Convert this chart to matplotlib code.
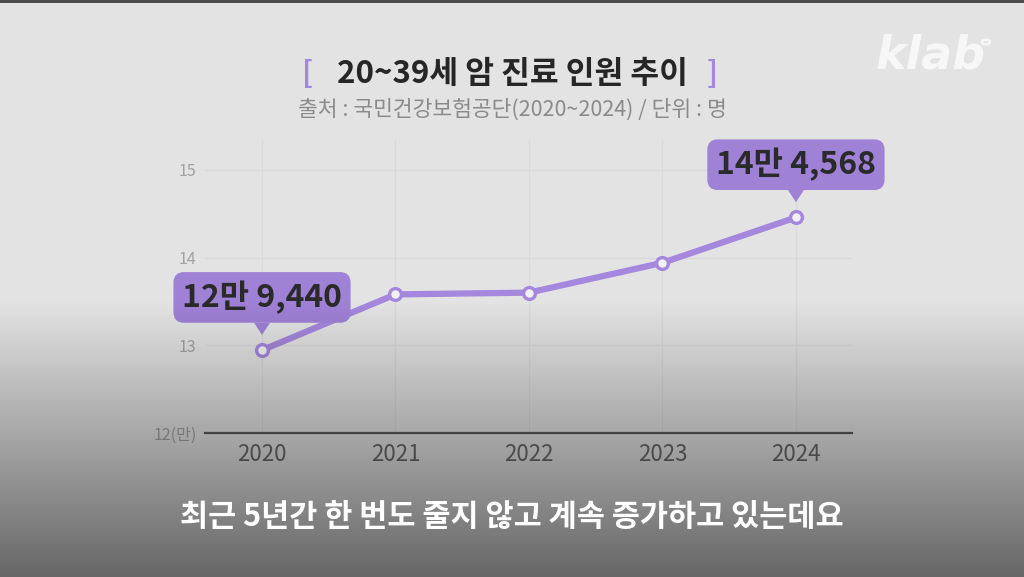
"""20~39세 암 진료 인원 추이 chart, video-frame style."""
import matplotlib
matplotlib.use("Agg")
import matplotlib.pyplot as plt
from matplotlib.patches import Rectangle, Circle
import numpy as np

plt.rcParams["font.family"] = ["Noto Sans CJK KR", "DejaVu Sans"]

YEARS = [2020, 2021, 2022, 2023, 2024]
PATIENTS = [129440, 135800, 136000, 139400, 144568]
Y_TICKS = [12, 13, 14, 15]
Y_TICK_LABELS = ["12(만)", "13", "14", "15"]
CALLOUT_YEARS = [2020, 2024]

TITLE = "20~39세 암 진료 인원 추이"
SOURCE = "출처 : 국민건강보험공단(2020~2024) / 단위 : 명"
CAPTION = "최근 5년간 한 번도 줄지 않고 계속 증가하고 있는데요"

PURPLE = "#a587dd"
BOX_PURPLE = "#9f81d6"
BG = "#e3e3e3"

W, H = 1024, 577


def fmt_man(v):
    return f"{v // 10000}만 {v % 10000:,}"


fig = plt.figure(figsize=(W / 100, H / 100), dpi=100, facecolor=BG)

ax = fig.add_axes([205 / W, 1 - 433 / H, 647 / W, (433 - 140) / H])
ax.set_facecolor("none")
values = [p / 10000 for p in PATIENTS]
ax.plot(YEARS, values, "-", color=PURPLE, linewidth=4.5, zorder=3,
        solid_capstyle="round")
ax.plot(YEARS, values, "o", markersize=8.5, markerfacecolor="#f2f2f2",
        markeredgecolor=PURPLE, markeredgewidth=2.4, zorder=4)

ax.set_xlim(2019.573, 2024.42)
ax.set_ylim(12, 15.34)
ax.set_xticks(YEARS)
ax.set_xticklabels([str(y) for y in YEARS], fontsize=16, color="#6a6a6a",
                   fontweight="light")
ax.set_yticks(Y_TICKS)
ax.set_yticklabels(Y_TICK_LABELS, fontsize=11.5, color="#a2a2a2",
                   fontweight="light")
ax.tick_params(axis="both", length=0)
ax.tick_params(axis="x", pad=7)
ax.tick_params(axis="y", pad=6)
ax.grid(True, color="#d9d9d9", linewidth=1.0, zorder=0)
for side in ["top", "right", "left"]:
    ax.spines[side].set_visible(False)
ax.spines["bottom"].set_color("#5a5a5a")
ax.spines["bottom"].set_linewidth(1.6)

for year, val in zip(YEARS, PATIENTS):
    if year not in CALLOUT_YEARS:
        continue
    ax.annotate(
        fmt_man(val),
        xy=(year, val / 10000),
        xytext=(0, 38),
        textcoords="offset points",
        ha="center",
        va="center",
        fontsize=23,
        fontweight="heavy",
        color="#2a2a2a",
        bbox=dict(boxstyle="round,pad=0.27,rounding_size=0.33", fc=BOX_PURPLE,
                  ec="none"),
        arrowprops=dict(arrowstyle="wedge,tail_width=0.5,shrink_factor=0.5",
                        fc=BOX_PURPLE, ec="none", shrinkA=0, shrinkB=11),
        zorder=5,
    )

# title and source line
fig.text(0.5, 1 - 74 / H, TITLE, ha="center", va="center", fontsize=22.5,
         fontweight="black", color="#262626")
fig.text(308 / W, 1 - 74 / H, "[", ha="center", va="center", fontsize=21,
         fontweight="bold", color=PURPLE)
fig.text(712 / W, 1 - 74 / H, "]", ha="center", va="center", fontsize=21,
         fontweight="bold", color=PURPLE)
fig.text(0.5, 1 - 110 / H, SOURCE, ha="center", va="center", fontsize=15.5,
         fontweight="light", color="#8a8a8a")

# logo
fig.text(931 / W, 1 - 56 / H, "klab", ha="center", va="center", fontsize=33,
         fontweight="bold", fontstyle="italic", family="DejaVu Sans",
         color="#f7f7f7")
fig.patches.append(Circle((986 / W, 1 - 42 / H), 4 / W, transform=fig.transFigure,
                          fc="none", ec="#f7f7f7", lw=1.8))

# dark video fade across the lower part
over = fig.add_axes([0, 0, 1, 1], zorder=2)
over.axis("off")
rows = np.arange(H)
alpha = np.clip((rows - 300) / (H - 300), 0, 1) * 0.55
grad = np.zeros((H, 1, 4))
grad[:, 0, 3] = alpha
over.imshow(grad, aspect="auto", extent=[0, 1, 0, 1], origin="upper")
over.set_xlim(0, 1)
over.set_ylim(0, 1)
over.add_patch(Rectangle((0, 1 - 3 / H), 1, 3 / H, fc="#4c4c4c", ec="none"))

caption = fig.text(0.5, 1 - 517 / H, CAPTION, ha="center", va="center",
                   fontsize=22, fontweight="bold", color="white")
caption.set_zorder(5)

fig.savefig("out.png", dpi=100, facecolor=BG)
